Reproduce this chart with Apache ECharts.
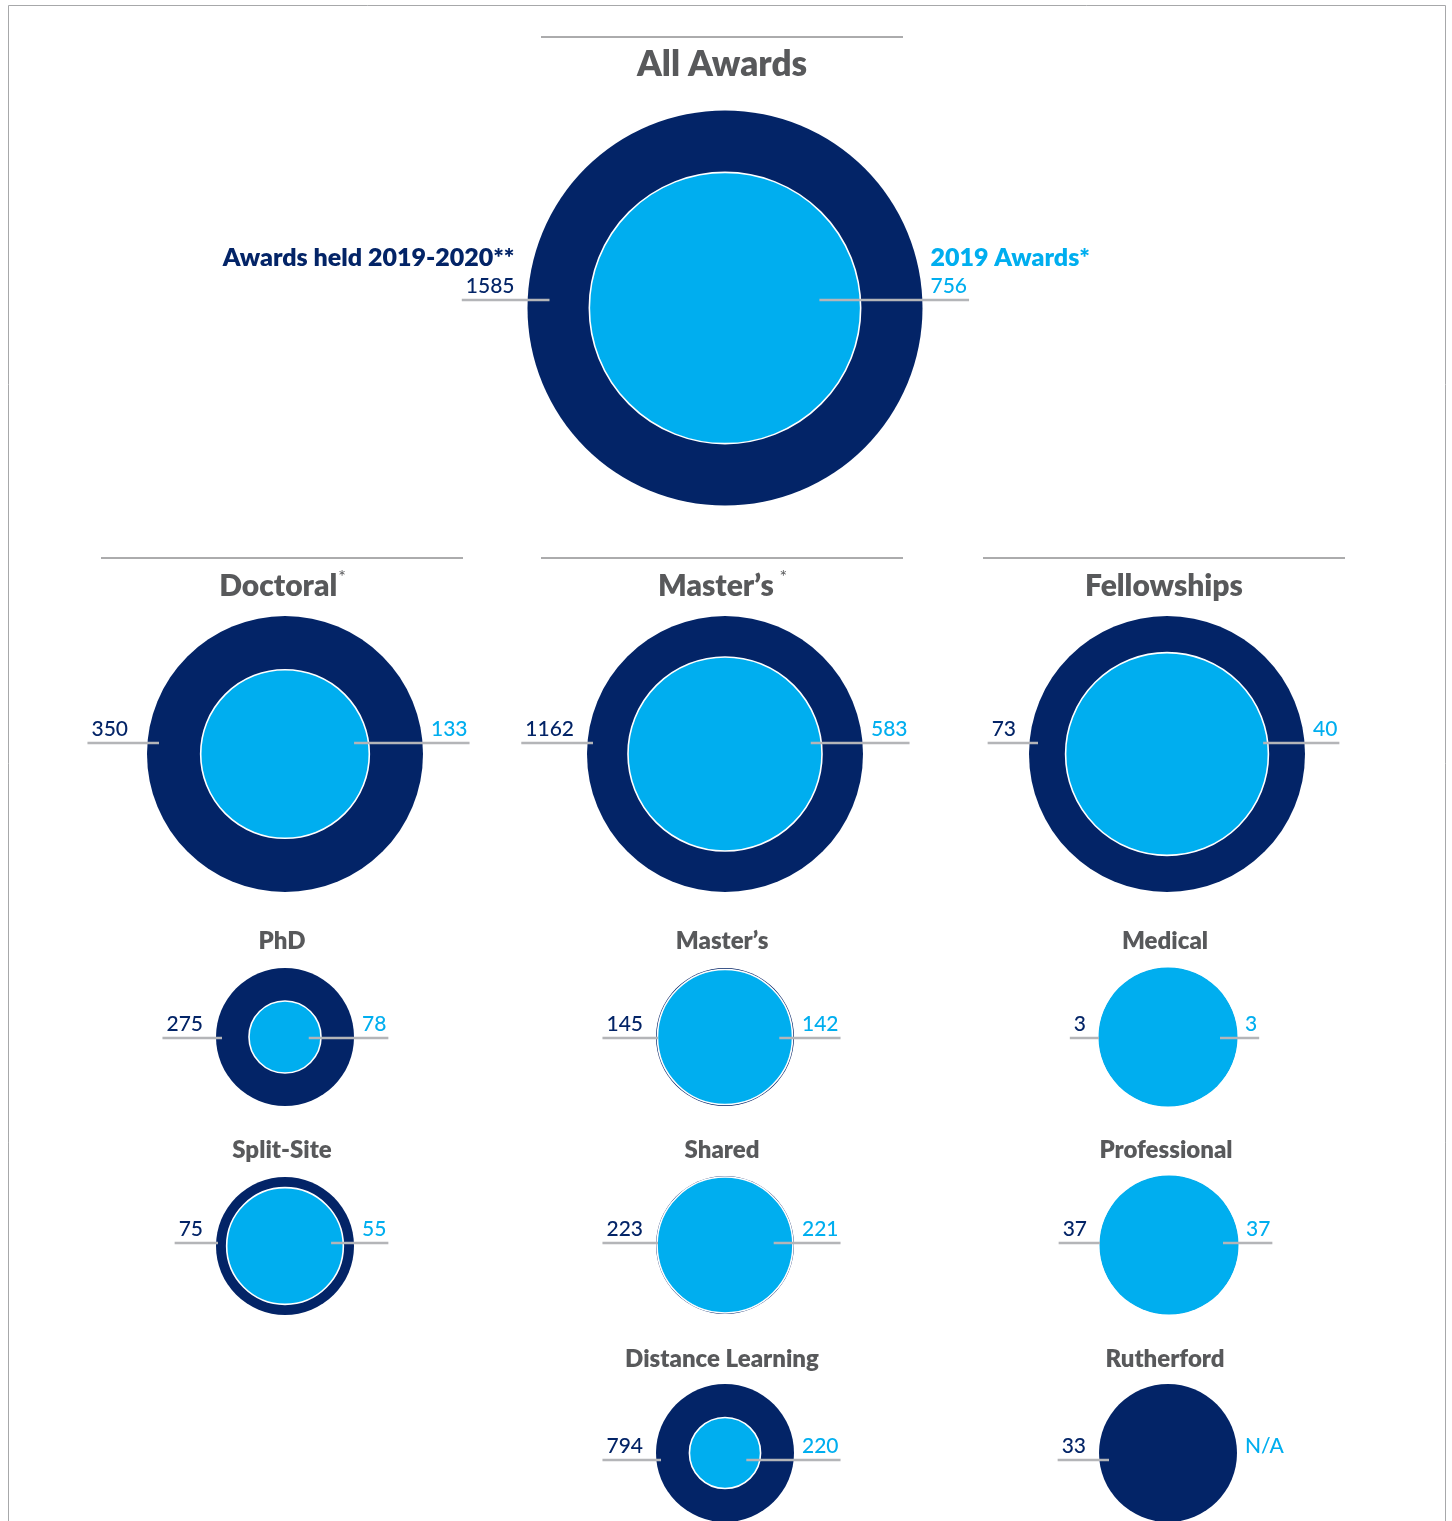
<!DOCTYPE html>
<html><head><meta charset="utf-8">
<script src="https://cdn.jsdelivr.net/npm/echarts@6/dist/echarts.min.js"></script>
<style>html,body{margin:0;padding:0;background:#fff}#chart{width:1452px;height:1521px}</style>
</head><body><div id="chart"></div>
<script>
// ---- DATA ----
const categories = ['All Awards','Doctoral','Master\u2019s','Fellowships','PhD','Master\u2019s','Medical','Split-Site','Shared','Professional','Distance Learning','Rutherford'];
const titleMarks = ['', '*', ' *', '', '', '', '', '', '', '', '', ''];
const heldValues = [1585, 350, 1162, 73, 275, 145, 3, 75, 223, 37, 794, 33];
const awards2019Values = [756, 133, 583, 40, 78, 142, 3, 55, 221, 37, 220, null];
const heldLabel = 'Awards held 2019-2020**';
const awardsLabel = '2019 Awards*';
const missingLabel = 'N/A';

// ---- LAYOUT (positions / sizes only) ----
const layout = [
  {x:725, y:308,  r:197.5, ts:35, rule:true,  tdy:-243, ly:-8,  inL:22, inR:42, lg:13},
  {x:285, y:754,  r:138,   ts:30, rule:true,  tdy:-168, ly:-11, inL:12, inR:16, lg:19},
  {x:725, y:754,  r:138,   ts:30, rule:true,  tdy:-168, ly:-11, inL:6,  inR:12, lg:13},
  {x:1167,y:754,  r:138,   ts:30, rule:true,  tdy:-168, ly:-11, inL:9,  inR:6,  lg:13},
  {x:285, y:1037, r:69,    ts:24, rule:false, tdy:-96,  ly:1,   inL:6,  inR:13, lg:13},
  {x:725, y:1037, r:69,    ts:24, rule:false, tdy:-96,  ly:1,   inL:2,  inR:14, lg:13},
  {x:1168,y:1037, r:69,    ts:24, rule:false, tdy:-96,  ly:1,   inL:0,  inR:17, lg:13},
  {x:285, y:1246, r:69,    ts:24, rule:false, tdy:-96,  ly:-3,  inL:2,  inR:13, lg:13},
  {x:725, y:1245, r:69,    ts:24, rule:false, tdy:-95,  ly:-2,  inL:2,  inR:20, lg:13},
  {x:1169,y:1245, r:69,    ts:24, rule:false, tdy:-95,  ly:-2,  inL:0,  inR:15, lg:13},
  {x:725, y:1453, r:69,    ts:24, rule:false, tdy:-94,  ly:7,   inL:5,  inR:15, lg:13},
  {x:1168,y:1453, r:69,    ts:24, rule:false, tdy:-94,  ly:7,   inL:10, inR:15, lg:13}
];

const NAVY = '#032467', BLUE = '#00AEEF', GREY = '#58595B', LINE = '#B4B5B8';
const FONT = 'Lato, "Noto Sans", sans-serif';
const NUM_SIZE = 21;
const NUM_W = '500';
const TITLE_W = '800';

const mctx = document.createElement('canvas').getContext('2d');
function textW(t, size, weight){ mctx.font = (weight||'normal') + ' ' + size + 'px ' + FONT; return mctx.measureText(t).width; }

function innerR(i){
  const h = heldValues[i], a = awards2019Values[i];
  return layout[i].r * Math.sqrt(a / h);
}
function isEqual(i){ return awards2019Values[i] >= heldValues[i]; }

const outerData = categories.map((c,i)=>({value:[layout[i].x, layout[i].y, heldValues[i]], idx:i}));
const innerData = categories.map((c,i)=>({value:[layout[i].x, layout[i].y, awards2019Values[i]], idx:i,
  itemStyle:{borderWidth: isEqual(i) ? 0 : 1.6}}))
  .filter(d => d.value[2] != null);

const chart = echarts.init(document.getElementById('chart'), null, {renderer:'canvas'});

function renderItem(params, api){
  const i = params.dataIndex;
  const L = layout[i];
  const c = api.coord([api.value(0), api.value(1)]);
  const cx = c[0], cy = c[1], R = L.r;
  const ch = [];
  // title
  const tTxt = categories[i], mark = titleMarks[i];
  const tw = textW(tTxt, L.ts, TITLE_W);
  const ms = Math.round(L.ts*0.6);
  const mw = mark ? textW(mark, ms, 'normal') : 0;
  const tx0 = cx - 3 - (tw + mw) / 2;
  const ty = cy + L.tdy;
  ch.push({type:'text', style:{text:tTxt, x:tx0, y:ty, fill:GREY, font:TITLE_W+' '+L.ts+'px '+FONT, align:'left', verticalAlign:'middle'}});
  if (mark) ch.push({type:'text', style:{text:mark, x:tx0+tw+1, y:ty - L.ts*0.3, fill:GREY, font:'normal '+ms+'px '+FONT, align:'left', verticalAlign:'middle'}});
  if (L.rule) ch.push({type:'line', shape:{x1:cx-184, y1:ty-28, x2:cx+178, y2:ty-28}, style:{stroke:GREY, lineWidth:1}});
  // left (held)
  const ly = cy + L.ly;
  const heldTxt = String(api.value(2));
  const lRight = cx - R - L.lg;
  const lw = textW(heldTxt, NUM_SIZE, NUM_W);
  ch.push({type:'line', shape:{x1:lRight - lw - 4, y1:ly, x2:cx - R + L.inL, y2:ly}, style:{stroke:LINE, lineWidth:2.5}});
  ch.push({type:'text', style:{text:heldTxt, x:lRight, y:ly-14, fill:NAVY, font:NUM_W+' '+NUM_SIZE+'px '+FONT, align:'right', verticalAlign:'middle'}});
  if (i === 0) ch.push({type:'text', style:{text:heldLabel, x:lRight, y:ly-42, fill:NAVY, font:'800 25px '+FONT, align:'right', verticalAlign:'middle'}});
  // right (2019)
  const a = awards2019Values[i];
  const rLeft = cx + R + 8;
  if (a == null) {
    ch.push({type:'text', style:{text:missingLabel, x:rLeft, y:ly-14, fill:BLUE, font:NUM_W+' '+NUM_SIZE+'px '+FONT, align:'left', verticalAlign:'middle'}});
  } else {
    const aTxt = String(api.value(3));
    const rw = textW(aTxt, NUM_SIZE, NUM_W);
    ch.push({type:'line', shape:{x1:cx + innerR(i) - L.inR, y1:ly, x2:rLeft + rw + 2, y2:ly}, style:{stroke:LINE, lineWidth:2.5}});
    ch.push({type:'text', style:{text:aTxt, x:rLeft, y:ly-14, fill:BLUE, font:NUM_W+' '+NUM_SIZE+'px '+FONT, align:'left', verticalAlign:'middle'}});
    if (i === 0) ch.push({type:'text', style:{text:awardsLabel, x:rLeft, y:ly-42, fill:BLUE, font:'800 25px '+FONT, align:'left', verticalAlign:'middle'}});
  }
  return {type:'group', children:ch};
}

chart.setOption({
  animation:false,
  backgroundColor:'#fff',
  graphic:[{type:'rect', shape:{x:8.5, y:5.5, width:1437, height:1530}, style:{fill:'none', stroke:'#A7A8AA', lineWidth:1}, silent:true, z:-1}],
  grid:{left:0, right:0, top:0, bottom:0},
  xAxis:{type:'value', min:0, max:1452, show:false},
  yAxis:{type:'value', min:0, max:1521, inverse:true, show:false},
  series:[
    {type:'scatter', name:'Awards held 2019-2020', silent:true, z:2,
     symbolSize:(v, p)=> 2 * layout[p.data.idx].r,
     itemStyle:{color:NAVY, opacity:1}, data:outerData},
    {type:'scatter', name:'2019 Awards', silent:true, z:3,
     symbolSize:(v, p)=> isEqual(p.data.idx) ? 2 * innerR(p.data.idx) + 1 : 2 * innerR(p.data.idx) - 1.5,
     itemStyle:{color:BLUE, opacity:1, borderColor:'#fff'}, data:innerData},
    {type:'custom', silent:true, z:5, renderItem:renderItem,
     encode:{x:0, y:1},
     data:categories.map((c,i)=>[layout[i].x, layout[i].y, heldValues[i], awards2019Values[i] == null ? 0 : awards2019Values[i]])}
  ]
});
</script></body></html>
